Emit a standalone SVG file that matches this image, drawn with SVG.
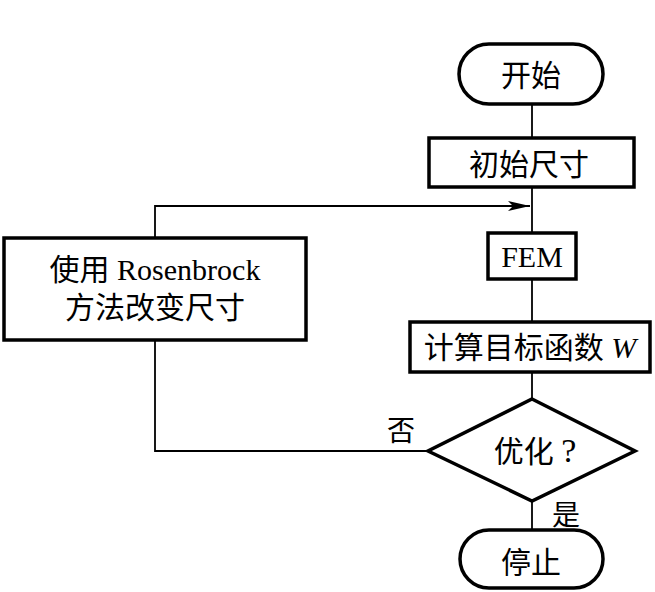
<svg xmlns="http://www.w3.org/2000/svg" width="655" height="592" viewBox="0 0 655 592">
<style>
.box{fill:#fff;stroke:#000;stroke-width:3.5}
.ln{fill:none;stroke:#000;stroke-width:1.8}
.t{font-family:"Liberation Serif","Noto Sans CJK SC",serif;font-size:30px;fill:#000;text-anchor:middle}
.l{font-family:"Liberation Serif","Noto Sans CJK SC",serif;font-size:28px;fill:#000}
</style>
<defs>
<marker id="ah" markerWidth="22" markerHeight="10" refX="22" refY="5" orient="auto" markerUnits="userSpaceOnUse">
<path d="M0,0 L22,5 L0,10 L5,5 Z" fill="#000"/>
</marker>
</defs>
<rect width="655" height="592" fill="#fff"/>
<g id="connectors">
<line class="ln" x1="532" y1="104" x2="532" y2="137"/>
<line class="ln" x1="532" y1="187" x2="532" y2="232"/>
<line class="ln" x1="532" y1="279" x2="532" y2="322"/>
<line class="ln" x1="532" y1="372" x2="532" y2="399"/>
<line class="ln" x1="532" y1="501" x2="532" y2="530"/>
<polyline class="ln" points="428,451 155,451 155,340"/>
<polyline class="ln" points="155,237 155,206 530,206" marker-end="url(#ah)"/>
</g>
<g id="start">
<rect class="box" x="459" y="44" width="144" height="60" rx="30"/>
<text class="t" x="531" y="86">开始</text>
</g>
<g id="init">
<rect class="box" x="429" y="138" width="205" height="49"/>
<text class="t" x="529" y="175">初始尺寸</text>
</g>
<g id="fem">
<rect class="box" x="488" y="233" width="88" height="46"/>
<text class="t" x="532" y="267">FEM</text>
</g>
<g id="calc">
<rect class="box" x="410" y="322" width="240" height="50"/>
<text class="t" x="530" y="358">计算目标函数 <tspan font-style="italic">W</tspan></text>
</g>
<g id="decide">
<polygon class="box" points="532,399 635,451 532,501 428,451"/>
<text class="t" x="535" y="462">优化 <tspan font-size="34">?</tspan></text>
</g>
<g id="modify">
<rect class="box" x="4" y="238" width="302" height="102"/>
<text class="t" x="155" y="280">使用 Rosenbrock</text>
<text class="t" x="155" y="318">方法改变尺寸</text>
</g>
<g id="stop">
<rect class="box" x="460" y="530" width="143" height="58" rx="29"/>
<text class="t" x="531" y="573">停止</text>
</g>
<g id="labels">
<text class="l" x="387" y="441">否</text>
<text class="l" x="552" y="525">是</text>
</g>
</svg>
